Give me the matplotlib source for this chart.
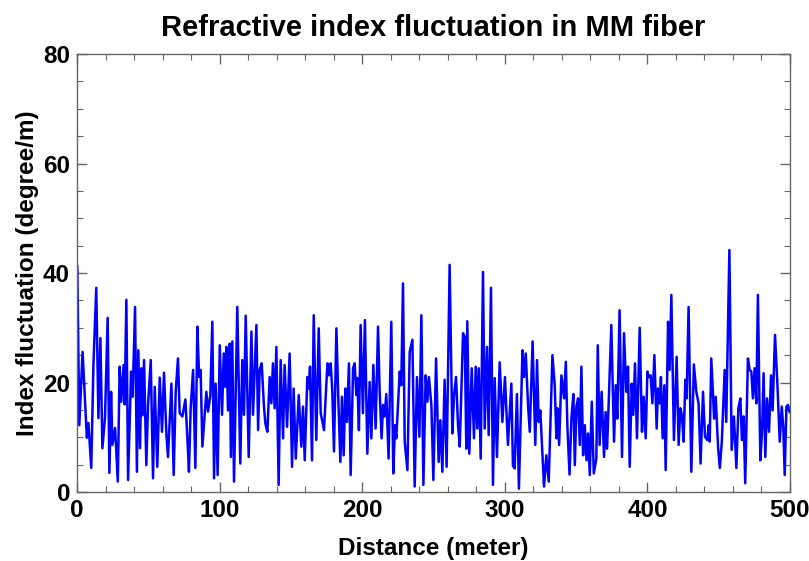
import matplotlib
matplotlib.use('Agg')
from matplotlib import pyplot as plt
from matplotlib.ticker import MultipleLocator

# distance (m) and index fluctuation (degree/m)
distance = [
    0.2, 1.6, 3.9, 6.9, 8.0, 10.0, 11.5, 13.5, 15.0, 16.4, 17.8, 19.6, 21.5, 22.7, 23.9, 24.8,
    26.7, 28.6, 29.9, 31.0, 32.7, 33.4, 34.6, 35.8, 37.9, 39.0, 40.7, 42.0, 43.0, 44.2,
    45.1, 45.8, 47.0, 48.6, 49.8, 51.7, 53.3, 54.5, 56.3, 58.0, 59.6, 61.0, 62.7, 63.8,
    66.2, 67.8, 69.2, 70.8, 72.0, 73.9, 76.0, 77.4, 78.5, 79.7, 81.4, 83.0, 84.4, 85.6,
    86.7, 87.9,
    90.7, 91.9, 93.5, 94.9, 96.1, 97.2, 98.6, 100.1, 101.7, 102.9, 104.0, 104.7, 105.9,
    107.1, 107.9, 108.9, 110.1, 112.4, 114.5, 115.9, 117.1, 118.3, 120.4, 122.3, 123.4,
    125.8, 127.0, 128.1, 129.5, 131.1, 132.1, 133.5, 135.1,
    136.3, 137.4, 138.6, 139.8, 141.4, 142.8, 144.5, 145.6, 147.3, 149.1, 150.8, 151.9,
    153.4, 155.5, 157.3, 158.5, 159.7, 161.5, 162.5, 163.4, 164.8, 166.0, 167.8, 169.5,
    170.9, 173.2, 175.6, 176.7, 177.9, 179.0, 180.2,
    181.9, 183.3, 184.7, 185.8, 187.0, 188.2, 189.3, 190.7, 191.9, 193.6, 194.7, 195.9,
    196.6, 197.7, 198.9, 200.5, 201.9, 203.6, 205.2, 206.4, 207.8, 209.4, 211.1, 212.2,
    213.6, 214.6, 215.7, 216.9, 218.5, 220.4, 221.8, 223.0, 223.9,
    226.3, 227.4, 228.6, 229.8, 231.7, 233.3, 235.2, 236.8, 238.4, 240.1, 241.5, 242.9,
    244.5, 245.7, 246.8, 248.5, 249.9, 251.8, 253.6, 254.8, 256.2, 257.8, 259.2, 261.3,
    263.2, 264.4, 265.8, 267.2, 268.4,
    270.7, 271.9, 273.0, 273.7, 275.1, 276.8, 278.4, 279.6, 280.7, 281.7, 283.1, 284.7,
    285.9, 287.5, 288.7, 290.3, 291.7, 292.9, 294.5, 296.4, 298.3, 300.1, 302.2, 304.6,
    305.7, 306.9, 308.5, 309.9, 312.4, 313.5, 314.7, 316.3, 317.5,
    319.5, 321.4, 322.6, 323.7, 324.9, 326.3, 327.5, 329.1, 330.8, 332.2, 333.4, 335.0,
    336.2, 336.9, 338.1, 339.7, 341.6, 342.8, 343.9, 345.4, 346.7, 348.1, 349.1, 350.2,
    351.4, 352.6, 353.7, 354.9, 356.1, 357.3, 358.4, 359.6, 361.0, 362.4,
    364.2, 365.2, 366.5, 367.9, 369.6, 370.7, 371.7, 372.8, 374.7, 376.6, 377.8, 378.9,
    380.5, 382.2, 383.6, 385.2, 386.4, 387.6, 389.0, 390.1, 391.3, 392.7, 394.6, 396.2,
    397.4, 398.8, 400.0, 401.1, 402.3, 403.5, 404.9, 406.5,
    407.4, 408.6, 409.5, 410.7, 411.9, 412.8, 414.5, 415.6, 416.8, 418.6, 420.5, 421.9,
    423.1, 424.2, 425.4, 426.6, 427.5, 428.9, 430.8, 432.6, 434.3, 435.9, 437.3, 439.0,
    440.4, 442.0, 443.0, 443.7, 444.8, 446.8, 447.9, 449.6, 450.8, 452.2,
    454.2, 455.3, 457.5, 459.1, 460.7, 462.4, 463.8, 465.2, 466.3, 467.5, 468.6, 470.5,
    471.7, 472.9, 474.0, 475.2, 476.4, 477.5, 479.2, 480.4, 481.5, 482.7, 483.9, 485.3,
    486.7, 487.8, 489.5, 491.1, 492.8, 494.2, 495.3, 496.3, 497.5, 498.6, 499.8,
]
fluctuation = [
    41.2, 12.2, 25.6, 9.9, 12.6, 4.4, 23.2, 37.3, 13.5, 28.1, 8.0, 13.5, 31.8, 3.5, 18.3, 8.6,
    11.7, 1.9, 22.9, 16.5, 23.2, 16.0, 35.1, 2.2, 22.0, 17.4, 33.8, 3.7, 25.9, 8.0,
    22.6, 14.0, 24.1, 4.9, 15.9, 24.1, 2.5, 19.2, 4.6, 20.9, 11.0, 21.8, 10.4, 6.4,
    19.8, 3.1, 18.3, 24.4, 14.4, 13.8, 16.9, 9.8, 3.7, 15.3, 22.3, 4.4, 30.2, 21.0,
    22.3, 8.3,
    18.3, 14.7, 17.7, 31.1, 2.5, 19.8, 3.1, 26.8, 14.1, 25.3, 19.2, 26.5, 14.9,
    27.1, 6.4, 27.5, 1.9, 33.8, 5.2, 24.1, 14.1, 32.2, 6.4, 29.3, 14.1,
    30.5, 11.3, 22.3, 23.5, 15.6, 12.5, 11.0, 21.0,
    16.2, 23.5, 15.3, 26.5, 1.3, 24.1, 9.8, 23.2, 11.9, 25.3, 4.6, 18.9,
    6.1, 17.7, 8.3, 15.6, 5.8, 21.0, 18.9, 22.9, 5.8, 32.3, 9.5, 29.9,
    14.4, 11.3, 23.5, 21.3, 23.5, 18.6, 7.4,
    29.9, 16.5, 5.5, 17.4, 6.7, 18.9, 12.8, 23.5, 3.1, 22.6, 23.5, 17.7,
    20.8, 11.3, 30.5, 14.4, 31.4, 7.0, 20.1, 9.8, 23.2, 11.6, 30.2, 18.6,
    9.8, 15.9, 13.8, 17.9, 6.1, 31.1, 3.4, 12.2, 9.8,
    22.0, 19.5, 38.1, 9.2, 4.0, 25.6, 27.8, 1.0, 21.0, 10.1, 32.3, 1.3,
    21.3, 16.5, 21.0, 15.9, 2.2, 24.4, 5.5, 13.1, 3.7, 20.5, 4.6, 41.5,
    10.7, 17.7, 21.0, 12.2, 8.3,
    29.0, 28.4, 7.9, 31.2, 7.0, 22.6, 9.8, 22.9, 11.6, 22.6, 6.1, 40.2,
    11.6, 26.5, 10.4, 37.3, 1.3, 20.8, 6.4, 23.7, 12.8, 21.0, 8.6, 19.8,
    4.8, 4.3, 17.9, 0.6, 25.9, 21.0, 25.3, 15.9, 11.0,
    27.5, 8.6, 24.1, 12.8, 14.9, 7.4, 1.0, 6.7, 1.9, 14.6, 25.0, 19.5,
    9.8, 15.3, 8.6, 21.3, 17.1, 23.8, 11.9, 3.2, 13.4, 17.9, 4.9, 15.6,
    17.1, 8.6, 22.9, 6.7, 12.2, 5.8, 10.7, 3.1, 16.5, 3.4,
    6.1, 26.8, 8.6, 18.3, 6.4, 14.6, 7.9, 15.9, 30.5, 9.2, 19.5, 13.4,
    33.2, 6.4, 29.0, 18.3, 22.9, 4.6, 19.8, 14.1, 23.5, 9.8, 30.0, 11.0,
    17.4, 9.8, 22.0, 21.0, 21.3, 16.2, 25.0, 11.6,
    18.9, 16.2, 21.0, 9.8, 19.5, 4.0, 31.1, 22.3, 36.0, 9.5, 24.7, 8.6,
    15.3, 14.1, 9.2, 20.5, 17.1, 33.8, 3.7, 23.3, 18.3, 16.2, 5.2, 18.3,
    10.1, 9.5, 12.2, 9.2, 24.4, 13.4, 17.4, 8.0, 4.4, 9.2,
    22.3, 12.8, 44.2, 7.7, 13.8, 4.4, 15.3, 17.1, 9.5, 13.8, 1.6, 24.4,
    22.3, 22.0, 17.1, 22.6, 16.2, 36.0, 5.8, 11.0, 21.7, 6.4, 17.1, 11.0,
    21.3, 14.9, 28.7, 20.1, 9.2, 15.6, 11.9, 3.1, 15.6, 15.9, 14.6,
]

plt.rcParams['font.family'] = ['Liberation Sans', 'DejaVu Sans']
plt.rcParams['font.weight'] = 'bold'

fig = plt.figure(figsize=(8.09, 5.61), dpi=100)
ax = fig.add_axes([0.0952, 0.123, 0.8813, 0.7807])

ax.plot(distance, fluctuation, color='#0000ff', linewidth=1.8)

ax.set_xlim(0, 500)
ax.set_ylim(0, 80)
ax.xaxis.set_major_locator(MultipleLocator(100))
ax.xaxis.set_minor_locator(MultipleLocator(20))
ax.yaxis.set_major_locator(MultipleLocator(20))
ax.yaxis.set_minor_locator(MultipleLocator(5))

frame = '#666666'
for s in ax.spines.values():
    s.set_color(frame)
    s.set_linewidth(1.0)
ax.tick_params(which='both', direction='in', top=True, right=True, color=frame,
               labelsize=17.5, labelcolor='black', pad=5)
ax.tick_params(which='major', length=7, width=1.0)
ax.tick_params(which='minor', length=4, width=0.8)
for lab in ax.get_xticklabels() + ax.get_yticklabels():
    lab.set_fontweight('bold')

ax.set_title('Refractive index fluctuation in MM fiber', fontsize=21, fontweight='bold', pad=13)
ax.set_xlabel('Distance (meter)', fontsize=17.5, fontweight='bold', labelpad=11)
ax.set_ylabel('Index fluctuation (degree/m)', fontsize=17.5, fontweight='bold', labelpad=3)

fig.savefig('out.png', dpi=100)
